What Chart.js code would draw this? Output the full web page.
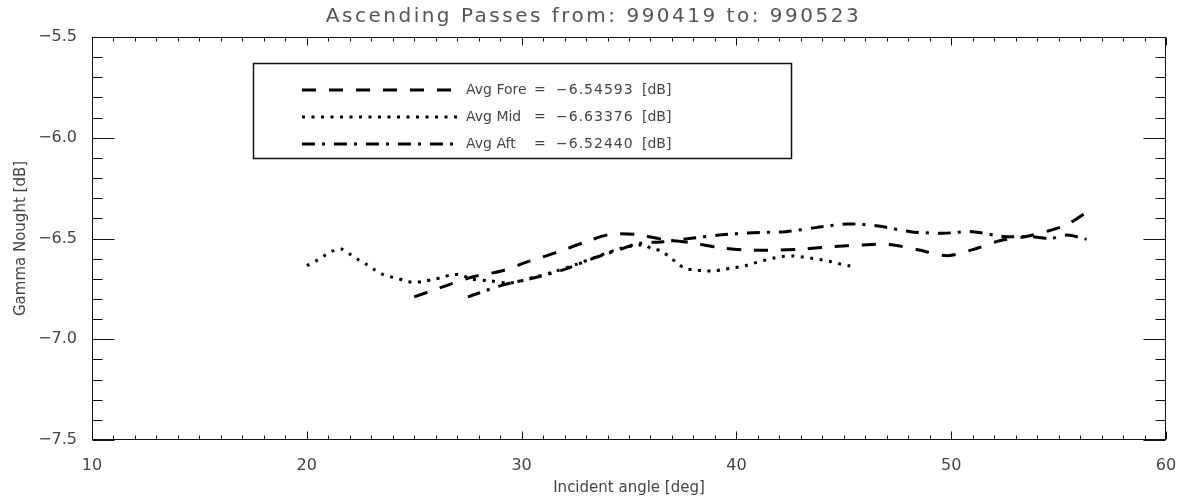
<!DOCTYPE html>
<html>
<head>
<meta charset="utf-8">
<script src="https://cdn.jsdelivr.net/npm/chart.js@4.4.0/dist/chart.umd.min.js"></script>
<style>
    html, body { margin: 0; padding: 0; background: #fff; }
</style>
</head>
<body>
<canvas id="gammaChart" width="1187" height="501"></canvas>
<script>
// incident angle [deg] / gamma nought [dB]
const foreX = [25.0, 26.6, 27.75, 29.1, 30.3, 31.6, 32.9, 34.1, 35.3, 36.6, 37.8, 39.2, 40.5, 41.9, 43.1, 44.5, 45.8, 47.1, 48.5, 49.8, 51.0, 52.3, 53.5, 54.6, 55.4, 56.3];
const foreY = [-6.79, -6.73, -6.69, -6.66, -6.615, -6.57, -6.52, -6.48, -6.48, -6.505, -6.52, -6.545, -6.557, -6.557, -6.552, -6.54, -6.532, -6.53, -6.557, -6.585, -6.555, -6.51, -6.49, -6.46, -6.43, -6.37];

const midX = [20.0, 20.45, 20.85, 21.25, 21.6, 22.0, 22.4, 22.8, 23.2, 23.6, 24.0, 24.5, 24.9, 25.4, 25.9, 26.3, 26.7, 27.2, 27.6, 28.5, 29.5, 30.5, 31.5, 32.5, 33.5, 34.6, 35.6, 36.05, 36.5, 36.9, 37.2, 37.6, 38.1, 38.5, 39.0, 39.4, 39.9, 40.4, 40.8, 41.25, 41.7, 42.1, 42.6, 43.0, 43.5, 44.0, 44.4, 44.85, 45.3];
const midY = [-6.635, -6.61, -6.583, -6.56, -6.552, -6.577, -6.605, -6.63, -6.658, -6.681, -6.693, -6.706, -6.717, -6.713, -6.703, -6.693, -6.681, -6.681, -6.70, -6.71, -6.72, -6.695, -6.665, -6.63, -6.59, -6.55, -6.532, -6.549, -6.562, -6.593, -6.618, -6.648, -6.656, -6.66, -6.661, -6.653, -6.645, -6.635, -6.623, -6.61, -6.598, -6.59, -6.587, -6.59, -6.598, -6.607, -6.615, -6.627, -6.636];

const aftX = [27.5, 29.15, 30.6, 31.9, 33.3, 34.7, 35.4, 36.6, 37.8, 39.2, 40.8, 42.3, 43.7, 45.2, 46.6, 48.1, 49.6, 51.0, 52.4, 53.7, 54.6, 55.4, 56.3];
const aftY = [-6.79, -6.73, -6.695, -6.657, -6.6, -6.55, -6.525, -6.516, -6.5, -6.483, -6.471, -6.466, -6.446, -6.428, -6.438, -6.466, -6.474, -6.466, -6.49, -6.491, -6.5, -6.483, -6.504];

const xTicks = [10, 20, 30, 40, 50, 60];
const yTicks = [-7.5, -7.0, -6.5, -6.0, -5.5];

const legendNames = ['Avg Fore', 'Avg Mid', 'Avg Aft'];
const legendAvgs = [-6.54593, -6.63376, -6.52440];

const chartTitle = 'Ascending Passes from: 990419 to: 990523';
const textColor = '#444';
const fontFamily = "'DejaVu Sans', sans-serif";

function toPoints(xs, ys) {
    return xs.map((x, i) => ({ x: x, y: ys[i] }));
}

function minusSign(str) {
    return str.replace('-', '\u2212');
}

// IDL style frame: box round the plot, inward ticks on all four sides
const frameTicks = {
    id: 'frameTicks',
    afterDatasetsDraw(chart) {
        const ctx = chart.ctx;
        const a = chart.chartArea;
        const xs = chart.scales.x;
        const ys = chart.scales.y;
        const left = Math.round(a.left) + 0.5;
        const right = Math.round(a.right) - 0.5;
        const top = Math.round(a.top) + 0.5;
        const bottom = Math.round(a.bottom) - 0.5;

        ctx.save();
        ctx.strokeStyle = '#111';
        ctx.lineWidth = 1;
        ctx.setLineDash([]);
        ctx.strokeRect(left, top, right - left, bottom - top);

        ctx.beginPath();
        for (let v = xs.min; v <= xs.max; v++) {
            const px = Math.round(xs.getPixelForValue(v)) + 0.5;
            const len = v % 10 === 0 ? 8 : 4;
            ctx.moveTo(px, bottom);
            ctx.lineTo(px, bottom - len);
            ctx.moveTo(px, top);
            ctx.lineTo(px, top + len);
        }
        for (let i = 0; i <= 20; i++) {
            const v = ys.min + i * 0.1;
            const py = Math.round(ys.getPixelForValue(v)) + 0.5;
            const len = i % 5 === 0 ? 22 : 10;
            ctx.moveTo(left, py);
            ctx.lineTo(left + len, py);
            ctx.moveTo(right, py);
            ctx.lineTo(right - len, py);
        }
        ctx.stroke();

        // title is centred on the page, spaced out like the IDL font
        ctx.font = '20px ' + fontFamily;
        ctx.fillStyle = '#555';
        ctx.textAlign = 'center';
        ctx.textBaseline = 'middle';
        ctx.letterSpacing = '2.5px';
        ctx.fillText(chartTitle, chart.width / 2, 17);
        ctx.restore();
    }
};

// boxed legend with the averages
const avgLegend = {
    id: 'avgLegend',
    afterDraw(chart) {
        const ctx = chart.ctx;
        ctx.save();
        ctx.strokeStyle = '#111';
        ctx.lineWidth = 1.5;
        ctx.setLineDash([]);
        ctx.strokeRect(253.5, 63.5, 538, 95);

        ctx.fillStyle = textColor;
        ctx.textBaseline = 'middle';
        chart.data.datasets.forEach((ds, i) => {
            const y = 90 + i * 27;
            ctx.strokeStyle = ds.borderColor;
            ctx.lineWidth = ds.borderWidth;
            ctx.setLineDash(ds.borderDash);
            ctx.beginPath();
            ctx.moveTo(302, y);
            ctx.lineTo(462, y);
            ctx.stroke();

            ctx.font = '14px ' + fontFamily;
            ctx.letterSpacing = '0px';
            ctx.fillText(legendNames[i], 466, y);
            ctx.fillText('=', 534, y);
            ctx.letterSpacing = '1px';
            ctx.fillText(minusSign(legendAvgs[i].toFixed(5)), 556, y);
            ctx.letterSpacing = '0px';
            ctx.fillText('[dB]', 642, y);
        });
        ctx.restore();
    }
};

const ctx = document.getElementById('gammaChart').getContext('2d');
const gammaChart = new Chart(ctx, {
    type: 'line',
    data: {
        datasets: [
            {
                label: 'Avg Fore',
                data: toPoints(foreX, foreY),
                borderColor: '#000',
                borderWidth: 3,
                borderDash: [14, 13],
                pointRadius: 0,
                tension: 0.3,
                fill: false
            },
            {
                label: 'Avg Mid',
                data: toPoints(midX, midY),
                borderColor: '#000',
                borderWidth: 3,
                borderDash: [3, 6.5],
                pointRadius: 0,
                tension: 0.3,
                fill: false
            },
            {
                label: 'Avg Aft',
                data: toPoints(aftX, aftY),
                borderColor: '#000',
                borderWidth: 3,
                borderDash: [13, 7, 3, 9],
                pointRadius: 0,
                tension: 0.3,
                fill: false
            }
        ]
    },
    options: {
        responsive: false,
        animation: false,
        layout: { padding: { top: 37, right: 21 } },
        scales: {
            x: {
                type: 'linear',
                min: 10,
                max: 60,
                grid: { display: false },
                border: { display: false },
                afterBuildTicks: s => { s.ticks = xTicks.map(v => ({ value: v })); },
                afterFit: s => { s.height = 61; },
                ticks: {
                    padding: 8,
                    maxRotation: 0,
                    color: textColor,
                    font: { family: fontFamily, size: 16 }
                },
                title: {
                    display: true,
                    text: 'Incident angle [deg]',
                    color: textColor,
                    font: { family: fontFamily, size: 15 },
                    padding: { top: 0, bottom: 4 }
                }
            },
            y: {
                min: -7.5,
                max: -5.5,
                grid: { display: false },
                border: { display: false },
                afterBuildTicks: s => { s.ticks = yTicks.map(v => ({ value: v })); },
                afterFit: s => { s.width = 92; },
                ticks: {
                    padding: 7,
                    color: textColor,
                    font: { family: fontFamily, size: 16 },
                    callback: value => minusSign(Number(value).toFixed(1))
                },
                title: {
                    display: true,
                    text: 'Gamma Nought [dB]',
                    color: textColor,
                    font: { family: fontFamily, size: 15 },
                    padding: { top: 12, bottom: 0 }
                }
            }
        },
        plugins: {
            legend: { display: false },
            tooltip: { enabled: false },
            title: { display: false }
        }
    },
    plugins: [frameTicks, avgLegend]
});
</script>
</body>
</html>
